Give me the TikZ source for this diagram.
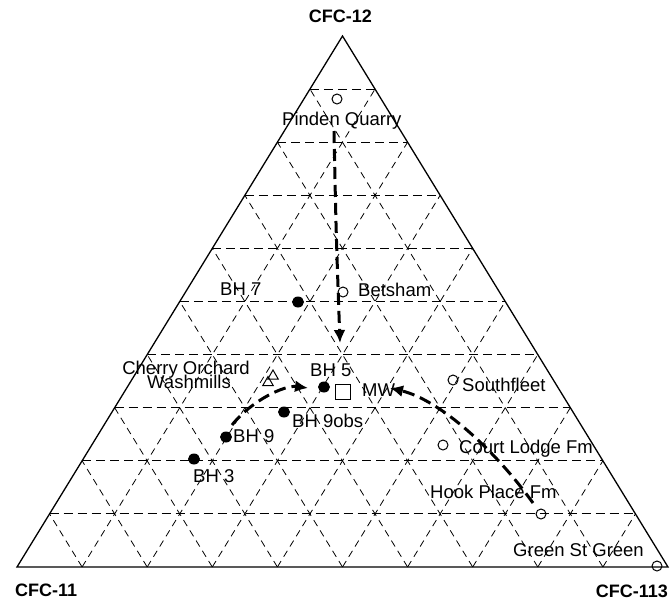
\documentclass[tikz,border=0pt]{standalone}
\usepackage{fontspec}
\setmainfont{Liberation Sans}
\usetikzlibrary{calc,arrows.meta,shapes.geometric}
\begin{document}
\begin{tikzpicture}[x=1pt,y=-1pt,
  hgrid/.style={dash pattern=on 9pt off 5pt, line width=1pt},
  sgrid/.style={dash pattern=on 7pt off 5pt, line width=0.8pt},
  frame/.style={line width=1.3pt, line join=miter},
  lab/.style={anchor=base west, inner sep=0pt, font=\fontsize{18.5}{18.5}\selectfont},
  axislab/.style={anchor=base, inner sep=0pt, font=\fontsize{18}{18}\selectfont\bfseries},
  opensite/.style={circle, draw, line width=1pt, minimum size=10pt, inner sep=0pt},
  bhsite/.style={ellipse, fill, minimum width=12pt, minimum height=11pt, inner sep=0pt},
  trisite/.style={regular polygon, regular polygon sides=3, draw, line width=1pt, minimum size=12pt, inner sep=0pt},
  mwsite/.style={rectangle, draw, line width=1pt, minimum size=15pt, inner sep=0pt},
  flow/.style={line width=3pt, dash pattern=on 12pt off 6pt, -{Latex[length=13pt,width=12pt]}}
]
\useasboundingbox (0,0) rectangle (672,608);

% corners
\coordinate (L) at (17,567);
\coordinate (R) at (668,567);
\coordinate (T) at (342.5,36);

% grid
\foreach \k in {1,...,9}{
  \draw[hgrid] ($(L)!\k/10!(T)$) -- ($(R)!\k/10!(T)$);
  \draw[sgrid] ($(L)!\k/10!(R)$) -- ($(T)!\k/10!(R)$);
  \draw[sgrid] ($(L)!\k/10!(R)$) -- ($(L)!\k/10!(T)$);
}
\draw[frame] (L) -- (R) -- (T) -- cycle;

% axis labels
\node[axislab] (cfc12) at (340.5,22) {CFC-12};
\node[axislab, anchor=base west] (cfc11) at (15,596) {CFC-11};
\node[axislab, anchor=base east] (cfc113) at (668,597) {CFC-113};

% sites
\node[opensite] (pq) at (337,99) {};
\node[lab] (pqL) at (282,125) {Pinden Quarry};
\node[opensite] (bet) at (343,292) {};
\node[lab] (betL) at (358,296) {Betsham};
\node[bhsite] (bh7) at (298,302) {};
\node[lab] (bh7L) at (220,295) {BH 7};
\node[lab] (coL) at (250,374) {};
\node[anchor=base east, inner sep=0pt, font=\fontsize{18.5}{18.5}\selectfont] (co) at (250,374) {Cherry Orchard};
\node[lab] (wm) at (147,388) {Washmills};
\node[trisite] (coT) at (273,376) {};
\node[trisite] (wmT) at (268,382.5) {};
\node[bhsite] (bh5) at (324,387) {};
\node[lab] (bh5L) at (310,376) {BH 5};
\node[mwsite] (mw) at (342.5,391.5) {};
\node[lab] (mwL) at (362,396) {MW};
\node[opensite] (sf) at (453,380) {};
\node[lab] (sfL) at (462,391) {Southfleet};
\node[bhsite] (bh9o) at (284,412) {};
\node[lab] (bh9oL) at (292,427) {BH 9obs};
\node[bhsite] (bh9) at (226,437) {};
\node[lab] (bh9L) at (233,442) {BH 9};
\node[bhsite] (bh3) at (194,459) {};
\node[lab] (bh3L) at (193,482) {BH 3};
\node[opensite] (cl) at (443,445) {};
\node[lab] (clL) at (459,453) {Court Lodge Fm};
\node[opensite] (hp) at (541,514) {};
\node[lab] (hpL) at (430,498) {Hook Place Fm};
\node[opensite] (gg) at (657,566) {};
\node[lab] (ggL) at (513,556) {Green St Green};

% flow arrows
\coordinate (a1s) at (334,131);
\coordinate (a1e) at (340,343);
\coordinate (a2s) at (232,425);
\coordinate (a2e) at (308,388);
\coordinate (a3s) at (533,503);
\coordinate (a3e) at (390,388);
\draw[flow] (a1s) .. controls (336,230) .. (a1e);
\draw[flow] (a2s) .. controls (252,400) and (285,385) .. (a2e);
\draw[flow] (a3s) .. controls (495,450) and (440,400) .. (a3e);
\end{tikzpicture}
\end{document}
